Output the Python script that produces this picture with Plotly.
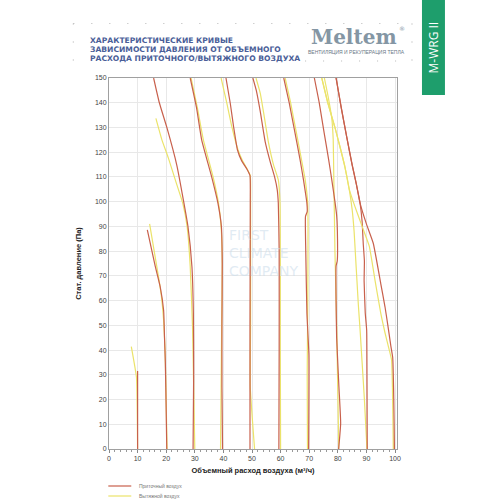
import plotly.graph_objects as go

# ---------------- data ----------------
x_ticks = [0, 10, 20, 30, 40, 50, 60, 70, 80, 90, 100]
y_ticks = [0, 10, 20, 30, 40, 50, 60, 70, 80, 90, 100, 110, 120, 130, 140, 150]

s1_v = [10.0, 10.0]
s1_p = [31.5, 0]
e1_v = [7.8, 9.6, 9.9, 10.0]
e1_p = [41.4, 29.0, 12.0, 0]

s2_v = [13.4, 16.2, 17.9, 19.1, 19.4, 19.7, 20.0, 20.2]
s2_p = [88.6, 73.7, 65.6, 56.0, 45.4, 35.0, 15.0, 0]
e2_v = [14.2, 15.8, 17.3, 18.3, 19.1, 19.6, 19.9, 20.3]
e2_p = [91.0, 80.0, 69.7, 62.0, 52.0, 40.0, 25.0, 0]

s3_v = [15.6, 17.6, 20.3, 23.7, 26.0, 27.6, 29.0, 29.5, 29.6, 29.4]
s3_p = [150, 140, 129.7, 114.8, 100.7, 90, 73.7, 55, 30, 0]
e3_v = [16.4, 18.5, 20.8, 23.4, 25.8, 27.3, 28.4, 29.2, 29.6, 30.0]
e3_p = [133.7, 125, 117.5, 108, 99.3, 90, 73.7, 49.5, 25, 0]

s4_v = [28.4, 30.6, 32.4, 35.9, 38.1, 39.3, 39.6, 39.5, 39.5, 39.7]
s4_p = [150, 138, 125, 110, 99.3, 89.9, 75, 50, 25, 0]
e4_v = [28.7, 30.9, 33.0, 36.4, 38.3, 39.2, 39.6, 39.4, 39.2, 39.0]
e4_p = [150, 138, 125, 110, 99.3, 89.9, 75, 50, 25, 0]

s5_v = [40.9, 42.4, 43.6, 44.9, 46.4, 48.2, 49.3, 49.4, 49.3, 49.3]
s5_p = [150, 139.8, 130, 121, 116.5, 113.2, 110.5, 100, 50, 0]
e5_v = [39.2, 41.2, 43.0, 45.1, 46.7, 48.3, 49.4, 49.5, 49.5, 49.4, 50.9]
e5_p = [150, 139.8, 130, 121, 116.5, 113.2, 110.5, 100, 50, 25, 0]

s6_v = [50.3, 51.5, 52.9, 54.6, 56.4, 57.9, 58.8, 59.2, 59.5, 59.5, 59.4]
s6_p = [150, 145, 136.4, 124.3, 116, 110, 105, 99.4, 80, 40, 0]
e6_v = [51.4, 52.9, 54.2, 55.7, 57.5, 59.2, 59.8, 59.9, 59.9, 60.0]
e6_p = [150, 143.8, 135, 124.3, 115, 108.8, 99.4, 80, 40, 0]

s7_v = [61.1, 63.0, 65.0, 66.8, 68.0, 69.2, 69.3, 68.7, 68.8, 69.2, 69.9, 69.8]
s7_p = [150, 140, 128, 117, 108.8, 99.3, 96, 94, 80, 55, 38, 0]
e7_v = [61.6, 63.5, 65.5, 67.3, 68.6, 69.5, 69.6, 69.5, 69.3, 69.4]
e7_p = [150, 140, 128, 117, 108.8, 99.3, 90, 60, 30, 0]

s8_v = [71.8, 73.5, 75.2, 76.8, 77.9, 79.0, 79.6, 79.9, 79.8, 79.4, 79.4, 79.6, 80.4, 81.0, 80.3]
s8_p = [150, 140, 128, 117, 108.8, 100, 94.4, 85, 76, 74, 60, 45, 25, 10.4, 0]
e8_v = [75.3, 76.7, 77.9, 78.4, 78.6, 78.8, 79.0, 79.3, 79.6, 79.9, 80.2, 80.3]
e8_p = [150, 142, 133.7, 125, 110, 95, 80, 65, 50, 30, 10, 0]

s9_v = [79.4, 81.2, 83.1, 85.0, 86.5, 87.8, 88.5, 88.9, 89.3, 89.2, 89.6, 90.1, 90.2, 90.3]
s9_p = [150, 138, 126.3, 115, 107, 99.3, 92, 83, 76, 68, 55, 48, 30, 0]
e9_v = [74.4, 76.5, 79.0, 80.8, 82.5, 84.0, 85.0, 85.7, 86.2, 86.7, 87.2, 87.8, 88.5, 89.3, 90.2]
e9_p = [150, 140, 130, 122, 114, 105, 97, 88, 78, 68, 58, 48, 35, 20, 0]

s10_v = [79.4, 81.2, 83.1, 85.0, 86.5, 87.8, 90.0, 92.4, 95.0, 96.5, 97.5, 98.5, 99.2, 99.5, 99.7, 99.8]
s10_p = [150, 138, 126.3, 115, 107, 99.3, 91, 83.2, 67, 57.5, 50, 42, 37, 25, 10, 0]
e10_v = [74.4, 76.5, 79.0, 80.8, 82.5, 84.0, 86.0, 88.5, 91.0, 93.0, 95.0, 96.5, 98.0, 98.8, 99.1, 99.3, 99.4]
e10_p = [150, 140, 130, 122, 114, 105, 98, 90, 82, 68.3, 55, 47, 40, 36, 25, 10, 0]

supply = [(s1_v, s1_p), (s2_v, s2_p), (s3_v, s3_p), (s4_v, s4_p), (s5_v, s5_p),
          (s6_v, s6_p), (s7_v, s7_p), (s8_v, s8_p), (s9_v, s9_p), (s10_v, s10_p)]
extract = [(e1_v, e1_p), (e2_v, e2_p), (e3_v, e3_p), (e4_v, e4_p), (e5_v, e5_p),
           (e6_v, e6_p), (e7_v, e7_p), (e8_v, e8_p), (e9_v, e9_p), (e10_v, e10_p)]

title_lines = ["ХАРАКТЕРИСТИЧЕСКИЕ КРИВЫЕ",
               "ЗАВИСИМОСТИ ДАВЛЕНИЯ ОТ ОБЪЕМНОГО",
               "РАСХОДА ПРИТОЧНОГО/ВЫТЯЖНОГО ВОЗДУХА"]
legend_labels = ["Приточный воздух", "Вытяжной воздух"]

RED = "#c8604c"
YEL = "#ebe36a"

# ---------------- layout geometry (pixels) ----------------
W, H = 500, 500
PL, PR, PT, PB = 108.7, 397.0, 78.0, 449.0


def px(x):
    return (x - PL) / (PR - PL)


def py(y):
    return (PB - y) / (PB - PT)


fig = go.Figure()
for (ev, ep), (sv, sp) in zip(extract, supply):
    fig.add_trace(go.Scatter(x=ev, y=ep, mode="lines", showlegend=False,
                             line=dict(color=YEL, width=1.2, shape="spline", smoothing=0.4),
                             hoverinfo="skip"))
    fig.add_trace(go.Scatter(x=sv, y=sp, mode="lines", showlegend=False,
                             line=dict(color=RED, width=1.2, shape="spline", smoothing=0.4),
                             hoverinfo="skip"))

shapes = []
annotations = []

# green side band
shapes.append(dict(type="rect", xref="paper", yref="paper", x0=px(422), x1=px(445),
                   y0=py(95), y1=py(-1), fillcolor="#1e9e6c", line=dict(width=0), layer="above"))
annotations.append(dict(xref="paper", yref="paper", x=px(433.5), y=py(47), text="M-WRG II",
                        showarrow=False, textangle=-90, xanchor="center", yanchor="middle",
                        font=dict(family="Open Sans", size=12, color="white")))

# dotted header frame
dot = dict(color="#b8b8b8", width=1.2, dash="1px,17px")
shapes.append(dict(type="line", xref="paper", yref="paper", x0=px(73), x1=px(412),
                   y0=py(23.5), y1=py(23.5), line=dot))
shapes.append(dict(type="line", xref="paper", yref="paper", x0=px(305), x1=px(412),
                   y0=py(61), y1=py(61), line=dot))
shapes.append(dict(type="line", xref="paper", yref="paper", x0=px(73), x1=px(73),
                   y0=py(23.5), y1=py(61), line=dot))
shapes.append(dict(type="line", xref="paper", yref="paper", x0=px(412), x1=px(412),
                   y0=py(23.5), y1=py(61), line=dot))

# title
for i, t in enumerate(title_lines):
    annotations.append(dict(xref="paper", yref="paper", x=px(88), y=py(40.5 + i * 9),
                            text=t, showarrow=False, xanchor="left", yanchor="middle",
                            font=dict(family="DejaVu Sans", size=7.6, color="#4a5e98",
                                      weight="bold")))

# logo
annotations.append(dict(xref="paper", yref="paper", x=px(354), y=py(37), text="<b>Meltem</b>",
                        showarrow=False, xanchor="center", yanchor="middle",
                        font=dict(family="DejaVu Serif", size=20, color="#8496a4")))
annotations.append(dict(xref="paper", yref="paper", x=px(402), y=py(28), text="®",
                        showarrow=False, xanchor="center", yanchor="middle",
                        font=dict(family="DejaVu Sans", size=6, color="#8496a4")))
annotations.append(dict(xref="paper", yref="paper", x=px(356), y=py(51.5),
                        text="ВЕНТИЛЯЦИЯ И РЕКУПЕРАЦИЯ ТЕПЛА",
                        showarrow=False, xanchor="center", yanchor="middle",
                        font=dict(family="Liberation Sans Narrow, Liberation Sans", size=5, color="#6a7886")))

# watermark
annotations.append(dict(xref="paper", yref="paper", x=px(227), y=py(253),
                        text="FIRST<br>CLIMATE<br>COMPANY", align="left",
                        showarrow=False, xanchor="left", yanchor="middle",
                        font=dict(family="DejaVu Sans", size=14, color="rgba(205,222,236,0.6)")))

# legend (manual)
for i, (lab, col) in enumerate(zip(legend_labels, [RED, YEL])):
    yy = 486 + i * 10
    shapes.append(dict(type="line", xref="paper", yref="paper", x0=px(108), x1=px(131),
                       y0=py(yy), y1=py(yy), line=dict(color=col, width=1.2)))
    annotations.append(dict(xref="paper", yref="paper", x=px(137), y=py(yy), text=lab,
                            showarrow=False, xanchor="left", yanchor="middle",
                            font=dict(family="Liberation Sans", size=5, color="#777")))

fig.update_layout(
    width=W, height=H, autosize=False,
    margin=dict(l=PL, r=W - PR, t=PT, b=H - PB, pad=0),
    paper_bgcolor="white", plot_bgcolor="white",
    showlegend=False,
    shapes=shapes, annotations=annotations,
    font=dict(family="Liberation Sans", color="#333"),
)
fig.update_xaxes(
    range=[0, 100.7], tickvals=x_ticks, ticktext=[str(v) for v in x_ticks],
    showgrid=True, gridcolor="#e8e8e8", gridwidth=1,
    showline=True, linecolor="#a0a0a0", linewidth=1, mirror=True,
    ticks="outside", ticklen=3, tickcolor="#888",
    minor=dict(dtick=2, tick0=0, ticks="outside", ticklen=2, tickcolor="#999", showgrid=False),
    tickfont=dict(size=7, color="#444"), zeroline=False, automargin=False,
    title=dict(text="<b>Объемный расход воздуха (м³/ч)</b>", standoff=6,
               font=dict(size=7.5, color="#222")),
)
fig.update_yaxes(
    range=[0, 150], tickvals=y_ticks, ticktext=[str(v) for v in y_ticks],
    showgrid=True, gridcolor="#e8e8e8", gridwidth=1,
    showline=True, linecolor="#a0a0a0", linewidth=1, mirror=True,
    ticks="", tickfont=dict(size=7, color="#444"), zeroline=False, automargin=False,
    title=dict(text="<b>Стат. давление (Па)</b>", standoff=12,
               font=dict(size=7.5, color="#222")),
)

fig.write_html("out.html", config={"displayModeBar": False},
               post_script="document.body.style.margin='0';")
